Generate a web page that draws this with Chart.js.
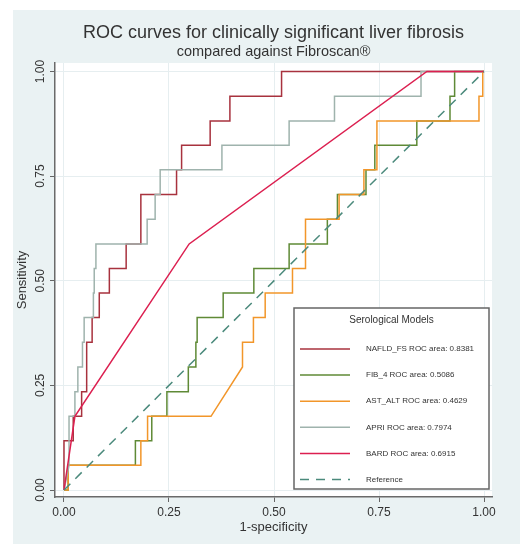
<!DOCTYPE html>
<html lang="en">
<head>
    <meta charset="UTF-8">
    <title>ROC curves for clinically significant liver fibrosis</title>
    <script src="https://cdn.jsdelivr.net/npm/chart.js"></script>
    <style>
        html, body { margin: 0; padding: 0; background: #fff; }
    </style>
</head>
<body>
    <canvas id="rocChart" width="520" height="545"></canvas>

    <script>
        // ROC points (1-specificity, sensitivity)
        const nafldFpr = [0, 0, 0.022, 0.022, 0.042, 0.042, 0.054, 0.054, 0.067, 0.067, 0.084, 0.084, 0.108, 0.108, 0.148, 0.148, 0.183, 0.183, 0.268, 0.268, 0.280, 0.280, 0.348, 0.348, 0.395, 0.395, 0.518, 0.518, 1];
        const nafldTpr = [0, 0.118, 0.118, 0.176, 0.176, 0.235, 0.235, 0.353, 0.353, 0.412, 0.412, 0.471, 0.471, 0.529, 0.529, 0.588, 0.588, 0.706, 0.706, 0.765, 0.765, 0.824, 0.824, 0.882, 0.882, 0.941, 0.941, 1, 1];

        const fib4Fpr = [0, 0.010, 0.010, 0.170, 0.170, 0.209, 0.209, 0.245, 0.245, 0.296, 0.296, 0.314, 0.314, 0.317, 0.317, 0.379, 0.379, 0.452, 0.452, 0.536, 0.536, 0.627, 0.627, 0.651, 0.651, 0.719, 0.719, 0.740, 0.740, 0.840, 0.840, 0.919, 0.919, 0.930, 0.930, 1];
        const fib4Tpr = [0, 0, 0.059, 0.059, 0.118, 0.118, 0.176, 0.176, 0.235, 0.235, 0.294, 0.294, 0.353, 0.353, 0.412, 0.412, 0.471, 0.471, 0.529, 0.529, 0.588, 0.588, 0.647, 0.647, 0.706, 0.706, 0.765, 0.765, 0.824, 0.824, 0.882, 0.882, 0.941, 0.941, 1, 1];

        const astAltFpr = [0, 0.010, 0.010, 0.183, 0.183, 0.199, 0.199, 0.350, 0.425, 0.425, 0.451, 0.451, 0.479, 0.479, 0.544, 0.544, 0.575, 0.575, 0.655, 0.655, 0.714, 0.714, 0.745, 0.745, 0.988, 0.988, 0.997, 0.997, 1];
        const astAltTpr = [0, 0, 0.059, 0.059, 0.118, 0.118, 0.176, 0.176, 0.294, 0.353, 0.353, 0.412, 0.412, 0.471, 0.471, 0.529, 0.529, 0.647, 0.647, 0.706, 0.706, 0.765, 0.765, 0.882, 0.882, 0.941, 0.941, 1, 1];

        const apriFpr = [0, 0.012, 0.012, 0.026, 0.026, 0.033, 0.033, 0.044, 0.044, 0.048, 0.048, 0.070, 0.070, 0.072, 0.072, 0.076, 0.076, 0.198, 0.198, 0.217, 0.217, 0.229, 0.229, 0.376, 0.376, 0.536, 0.536, 0.644, 0.644, 0.850, 0.850, 1];
        const apriTpr = [0, 0.059, 0.176, 0.176, 0.235, 0.235, 0.294, 0.294, 0.353, 0.353, 0.412, 0.412, 0.471, 0.471, 0.529, 0.529, 0.588, 0.588, 0.647, 0.647, 0.706, 0.706, 0.765, 0.765, 0.824, 0.824, 0.882, 0.882, 0.941, 0.941, 1, 1];

        const bardFpr = [0, 0.026, 0.298, 0.864, 1];
        const bardTpr = [0, 0.176, 0.588, 1, 1];

        const refFpr = [0, 1];
        const refTpr = [0, 1];

        const modelNames = ['NAFLD_FS', 'FIB_4', 'AST_ALT', 'APRI', 'BARD'];
        const rocAreas = ['0.8381', '0.5086', '0.4629', '0.7974', '0.6915'];
        const tickValues = [0, 0.25, 0.5, 0.75, 1];
        const tickLabels = ['0.00', '0.25', '0.50', '0.75', '1.00'];

        const FONT = '"Liberation Sans", Arial, sans-serif';
        const TEXT = '#333333';

        function toPoints(xs, ys) {
            return xs.map((x, i) => ({ x: x, y: ys[i] }));
        }

        function rocSet(label, xs, ys, color, idx) {
            return {
                label: label,
                data: toPoints(xs, ys),
                borderColor: color,
                backgroundColor: color,
                borderWidth: 1.5,
                pointRadius: 0,
                fill: false,
                tension: 0,
                order: 10 - idx   // later series are drawn on top
            };
        }

        const colors = ['#a8323e', '#5f8a36', '#f2962a', '#9fb3ad', '#dc1f50'];
        const fprs = [nafldFpr, fib4Fpr, astAltFpr, apriFpr, bardFpr];
        const tprs = [nafldTpr, fib4Tpr, astAltTpr, apriTpr, bardTpr];

        const datasets = modelNames.map((name, i) =>
            rocSet(name + ' ROC area: ' + rocAreas[i], fprs[i], tprs[i], colors[i], i));
        const refSet = rocSet('Reference', refFpr, refTpr, '#4b8a7c', 5);
        refSet.borderDash = [9, 7];
        datasets.push(refSet);

        // background: white margin, bluish graph region, white plot region
        const backgroundPlugin = {
            id: 'stataBackground',
            beforeDraw(chart) {
                const c = chart.ctx;
                const a = chart.chartArea;
                c.save();
                c.fillStyle = '#ffffff';
                c.fillRect(0, 0, chart.width, chart.height);
                c.fillStyle = '#eaf2f3';
                c.fillRect(13, 10, chart.width - 13, chart.height - 11);
                c.fillStyle = '#ffffff';
                c.fillRect(a.left, a.top, a.right - a.left, a.bottom - a.top);
                c.restore();
            }
        };

        // tick labels and axis titles (y labels are rotated like the original)
        const axisTextPlugin = {
            id: 'axisText',
            afterDraw(chart) {
                const c = chart.ctx;
                const xs = chart.scales.x;
                const ys = chart.scales.y;
                const a = chart.chartArea;
                c.save();
                c.fillStyle = TEXT;
                c.font = '12px ' + FONT;
                c.textAlign = 'center';
                c.textBaseline = 'middle';
                tickValues.forEach((v, i) => {
                    c.fillText(tickLabels[i], xs.getPixelForValue(v), a.bottom + 16);
                    c.save();
                    c.translate(a.left - 14, ys.getPixelForValue(v));
                    c.rotate(-Math.PI / 2);
                    c.fillText(tickLabels[i], 0, 0);
                    c.restore();
                });
                c.font = '13px ' + FONT;
                c.fillText('1-specificity', (a.left + a.right) / 2, a.bottom + 30);
                c.translate(22, (a.top + a.bottom) / 2);
                c.rotate(-Math.PI / 2);
                c.fillText('Sensitivity', 0, 0);
                c.restore();
            }
        };

        // boxed legend in the lower right of the plot
        const legendBoxPlugin = {
            id: 'legendBox',
            afterDraw(chart) {
                const c = chart.ctx;
                const x0 = 294, y0 = 308, w = 195, h = 181;
                c.save();
                c.fillStyle = '#ffffff';
                c.fillRect(x0, y0, w, h);
                c.strokeStyle = '#666666';
                c.lineWidth = 1.5;
                c.strokeRect(x0, y0, w, h);

                c.fillStyle = TEXT;
                c.font = '10px ' + FONT;
                c.textAlign = 'center';
                c.textBaseline = 'middle';
                c.fillText('Serological Models', x0 + w / 2, y0 + 12);

                c.font = '8px ' + FONT;
                c.textAlign = 'left';
                chart.data.datasets.forEach((ds, i) => {
                    const y = y0 + 41 + i * 26.1;
                    c.strokeStyle = ds.borderColor;
                    c.lineWidth = 1.5;
                    c.setLineDash(ds.borderDash || []);
                    c.beginPath();
                    c.moveTo(x0 + 6, y);
                    c.lineTo(x0 + 56, y);
                    c.stroke();
                    c.setLineDash([]);
                    c.fillStyle = TEXT;
                    c.fillText(ds.label, x0 + 72, y);
                });
                c.restore();
            }
        };

        const axisStyle = {
            type: 'linear',
            ticks: { display: false },
            grid: {
                color: '#e6eef0',
                lineWidth: 1,
                drawTicks: true,
                tickLength: 5,
                tickColor: '#666666',
                tickWidth: 1
            },
            border: { color: '#6a6a6a', width: 1.5 },
            afterBuildTicks: function(scale) {
                scale.ticks = tickValues.map(v => ({ value: v }));
            }
        };

        const ctx = document.getElementById('rocChart').getContext('2d');
        const rocChart = new Chart(ctx, {
            type: 'line',
            data: { datasets: datasets },
            options: {
                responsive: false,
                animation: false,
                devicePixelRatio: 1,
                layout: {
                    padding: { left: 50, right: 28, top: 10, bottom: 43 }
                },
                scales: {
                    x: Object.assign({}, axisStyle, { position: 'bottom', min: -0.0214, max: 1.019 }),
                    y: Object.assign({}, axisStyle, { position: 'left', min: -0.0167, max: 1.0203 })
                },
                plugins: {
                    legend: { display: false },
                    tooltip: { enabled: false },
                    title: {
                        display: true,
                        fullSize: false,
                        text: 'ROC curves for clinically significant liver fibrosis',
                        color: TEXT,
                        font: { family: FONT, size: 18, weight: 'normal' },
                        padding: { top: 12, bottom: 0 }
                    },
                    subtitle: {
                        display: true,
                        fullSize: false,
                        text: 'compared against Fibroscan®',
                        color: TEXT,
                        font: { family: FONT, size: 14.5, weight: 'normal' },
                        padding: { top: 0, bottom: 2 }
                    }
                }
            },
            plugins: [backgroundPlugin, axisTextPlugin, legendBoxPlugin]
        });
    </script>
</body>
</html>
